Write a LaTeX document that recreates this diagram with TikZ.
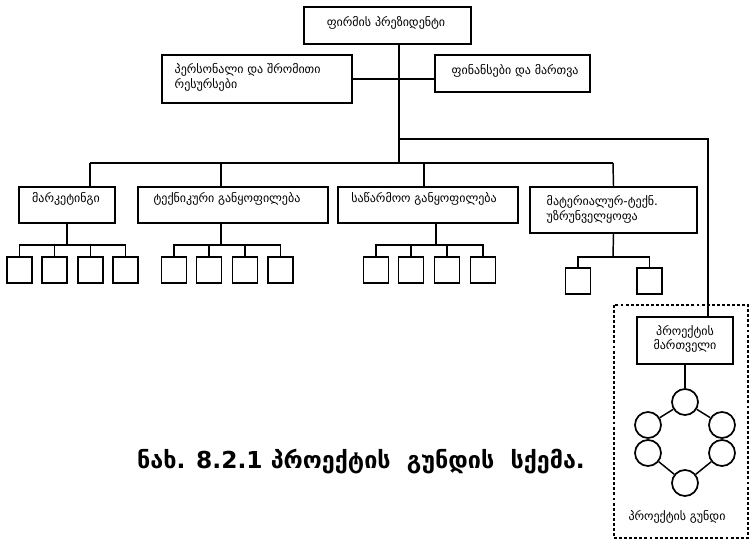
\documentclass[tikz,border=0pt]{standalone}
\usepackage{fontspec}
\newfontfamily\geo{DejaVu Sans}
\begin{document}
\begin{tikzpicture}[x=0.75pt,y=-0.75pt,
  line width=1.1pt,
  box/.style={draw, rectangle, inner sep=0pt, line width=1.3pt},
  leaf/.style={box, minimum width={25*0.75pt}, minimum height={26*0.75pt}},
  txt/.style={inner sep=0pt, font=\geo\fontsize{9}{11}\selectfont},
  member/.style={draw, circle, inner sep=0pt, minimum size={26*0.75pt}, line width=1.3pt}]
\useasboundingbox (0,0) rectangle (750,541);
% --- top management ---
\node[box, minimum width={167*0.75pt}, minimum height={37*0.75pt}] (pres) at (387.5,25.5) {};
\node[txt] (pres-t) at (386,23) {ფირმის პრეზიდენტი};
\node[box, minimum width={190*0.75pt}, minimum height={48*0.75pt}] (pers) at (257,79) {};
\node[txt, anchor=north west, align=left] (pers-t) at (174,63) {პერსონალი და შრომითი\\რესურსები};
\node[box, minimum width={155*0.75pt}, minimum height={37*0.75pt}] (fin) at (512.5,73.5) {};
\node[txt, anchor=west] (fin-t) at (451,71) {ფინანსები და მართვა};
% --- departments ---
\node[box, minimum width={96*0.75pt}, minimum height={36*0.75pt}] (mkt) at (67,205) {};
\node[txt] (mkt-t) at (66,199) {მარკეტინგი};
\node[box, minimum width={190*0.75pt}, minimum height={36*0.75pt}] (tech) at (233,205) {};
\node[txt] (tech-t) at (227,199) {ტექნიკური განყოფილება};
\node[box, minimum width={180*0.75pt}, minimum height={36*0.75pt}] (prod) at (428,205) {};
\node[txt] (prod-t) at (424,199) {საწარმოო განყოფილება};
\node[box, minimum width={167*0.75pt}, minimum height={46*0.75pt}] (mat) at (613.5,210) {};
\node[txt, anchor=north west, align=left] (mat-t) at (546,195) {მატერიალურ-ტექნ.\\უზრუნველყოფა};
% --- trunk and buses ---
\coordinate (hub) at (399,79);
\coordinate (bus) at (399,163);
\coordinate (side) at (399,139);
\coordinate (corner) at (708,139);
\draw (pres.south -| hub) -- (bus);
\draw (pers.east) -- (pers.east -| fin.west);
\draw (90,163) -- (613,163);
\draw (90,163) -- (90,163 |- mkt.north);
\draw (221,163) -- (221,163 |- tech.north);
\draw (424,163) -- (424,163 |- prod.north);
\draw (613,163) -- (mat.north);
% --- leaf units ---
\foreach \i/\x in {1/19.5,2/54.5,3/90.5,4/125.5} \node[leaf] (m\i) at (\x,270) {};
\foreach \i/\x in {1/174,2/209,3/245,4/280.5} \node[leaf] (t\i) at (\x,270) {};
\foreach \i/\x in {1/376,2/411,3/447,4/483} \node[leaf] (p\i) at (\x,270) {};
\foreach \i/\x in {1/578,2/649.5} \node[leaf] (r\i) at (\x,281) {};
\coordinate (mj) at (67,245);
\coordinate (tj) at (221,245);
\coordinate (pj) at (436,245);
\coordinate (rj) at (613,257);
\draw (mkt.south) -- (mj);
\draw (tj |- tech.south) -- (tj);
\draw (pj |- prod.south) -- (pj);
\draw (mat.south) -- (rj);
\draw (m1.north) |- (m4.north |- mj) -- (m4.north);
\draw (t1.north) |- (t4.north |- tj) -- (t4.north);
\draw (p1.north) |- (p4.north |- pj) -- (p4.north);
\draw (r1.north) |- (r2.north |- rj) -- (r2.north);
\foreach \i in {2,3} {
  \draw (m\i.north) -- (m\i.north |- mj);
  \draw (t\i.north) -- (t\i.north |- tj);
  \draw (p\i.north) -- (p\i.north |- pj);
}
% --- project team ---
\draw[line width=1.3pt, dash pattern=on 2.2pt off 1.6pt] (614,305) rectangle (748,538);
\node[box, minimum width={96*0.75pt}, minimum height={47*0.75pt}] (mgr) at (685,340.5) {};
\node[txt, align=center] (mgr-t) at (685,339) {პროექტის\\მართველი};
\draw (side) -- (corner) -- (corner |- mgr.north);
\node[member] (c1) at (685,402) {};
\node[member] (c2) at (648,425) {};
\node[member] (c3) at (648,453) {};
\node[member] (c4) at (685,483) {};
\node[member] (c5) at (722,453) {};
\node[member] (c6) at (722,425) {};
\draw (685,364) -- (c1);
\draw (c1) -- (c2) -- (c3) -- (c4) -- (c5) -- (c6) -- (c1);
\node[txt] (team) at (677,517) {პროექტის გუნდი};
% --- caption ---
\node[inner sep=0pt, font=\geo\bfseries\fontsize{17.5}{20}\selectfont] (cap) at (361,462) {ნახ. 8.2.1 პროექტის~~გუნდის~~სქემა.};
\end{tikzpicture}
\end{document}
